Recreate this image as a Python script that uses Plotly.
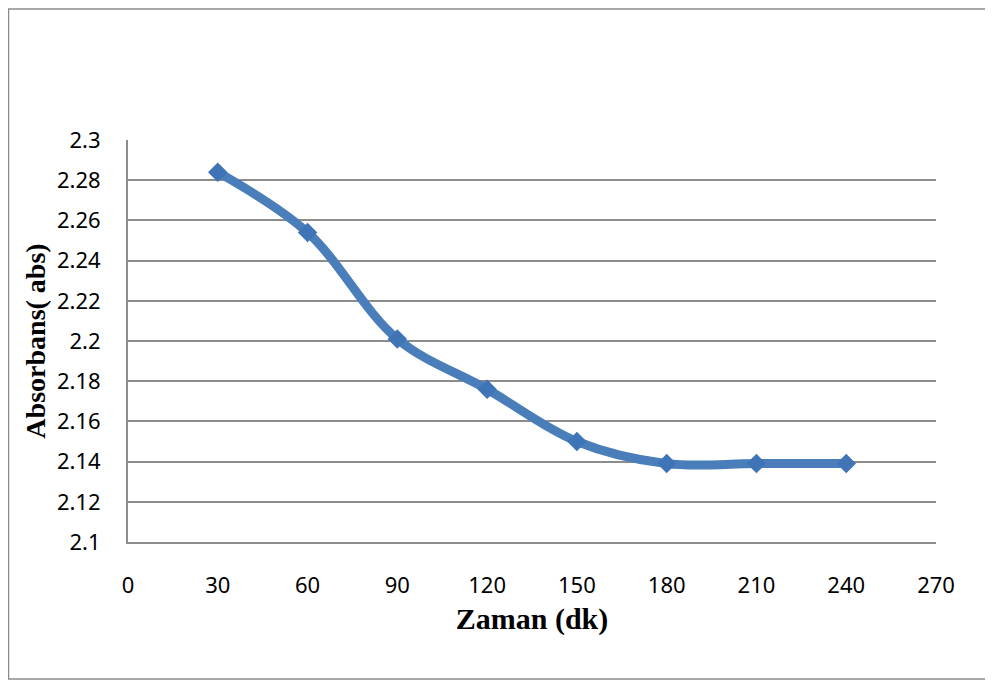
import plotly.graph_objects as go

# time (minutes) and absorbance readings
zaman = [30, 60, 90, 120, 150, 180, 210, 240]
absorbans = [2.284, 2.254, 2.201, 2.176, 2.150, 2.139, 2.139, 2.139]

x_ticks = [0, 30, 60, 90, 120, 150, 180, 210, 240, 270]
y_ticks = [2.1, 2.12, 2.14, 2.16, 2.18, 2.2, 2.22, 2.24, 2.26, 2.28, 2.3]

# the page body adds an 8px margin, so the figure is a bit smaller and shifted
OFF = 8
W, H = 993 - OFF, 681 - OFF
L, T = 128 - OFF, 140 - OFF
R, B = W - (936 - OFF), H - (542 - OFF)
pw, ph = W - L - R, H - T - B

LINE_COLOR = '#4A7EBB'
GRID_COLOR = '#8C8C8C'
TICK_FONT = dict(family='Noto Sans, Open Sans, sans-serif', size=22, color='black')
X_TITLE_FONT = dict(family='Liberation Serif, Times New Roman, serif', size=30, color='black')
Y_TITLE_FONT = dict(family='Liberation Serif, Times New Roman, serif', size=28, color='black')

fig = go.Figure()
fig.add_trace(go.Scatter(
    x=zaman,
    y=absorbans,
    mode='lines+markers',
    line=dict(color=LINE_COLOR, width=9, shape='spline', smoothing=1),
    marker=dict(symbol='diamond', size=15, color='#3F74B6'),
    showlegend=False,
))

fig.update_layout(
    width=W,
    height=H,
    margin=dict(l=L, r=R, t=T, b=B),
    paper_bgcolor='white',
    plot_bgcolor='white',
    xaxis=dict(
        range=[0, 270],
        tickvals=x_ticks,
        ticktext=[str(v) for v in x_ticks],
        showgrid=False,
        zeroline=False,
        showline=True,
        linecolor=GRID_COLOR,
        linewidth=2,
        ticks='',
        tickfont=TICK_FONT,
        ticklabelstandoff=23,
        title=dict(text='<b>Zaman (dk)</b>', font=X_TITLE_FONT, standoff=10),
    ),
    yaxis=dict(
        range=[2.1, 2.3],
        tickvals=y_ticks,
        ticktext=[f'{v:g}' for v in y_ticks],
        showgrid=True,
        gridcolor=GRID_COLOR,
        gridwidth=1.5,
        zeroline=False,
        showline=True,
        linecolor=GRID_COLOR,
        linewidth=2,
        ticks='',
        tickfont=TICK_FONT,
        ticklabelstandoff=21,
        title=dict(text='<b>Absorbans( abs)</b>', font=Y_TITLE_FONT, standoff=3),
    ),
)

# outer chart frame (right edge falls outside the picture)
fig.add_shape(
    type='rect', xref='paper', yref='paper',
    x0=(0.5 - L) / pw, x1=(W + 10 - L) / pw,
    y0=(H - B - (679 - OFF)) / ph, y1=(H - B - 1) / ph,
    line=dict(color='#8C8C8C', width=1.5),
    fillcolor='rgba(0,0,0,0)',
    layer='below',
)

fig.write_html('out.html')
